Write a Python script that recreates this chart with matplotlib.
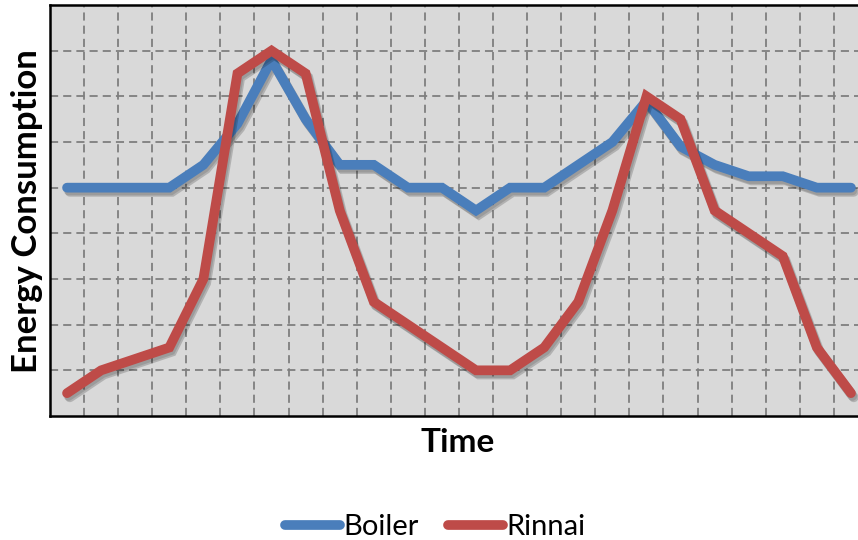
import numpy as np
import matplotlib
matplotlib.use("Agg")
import matplotlib.pyplot as plt
import matplotlib.patheffects as pe
from matplotlib.lines import Line2D

# hourly categories (24 slots), values in grid units
hours = list(range(24))
boiler = [5.0, 5.0, 5.0, 5.0, 5.5, 6.4, 7.8, 6.5, 5.5, 5.5, 5.0, 5.0,
          4.5, 5.0, 5.0, 5.5, 6.0, 6.9, 5.9, 5.5, 5.25, 5.25, 5.0, 5.0]
rinnai = [0.5, 1.0, 1.25, 1.5, 3.0, 7.5, 8.0, 7.5, 4.5, 2.5, 2.0, 1.5,
          1.0, 1.0, 1.5, 2.5, 4.5, 7.0, 6.5, 4.5, 4.0, 3.5, 1.5, 0.5]
series_names = ["Boiler", "Rinnai"]
series_colors = ["#4A7EBB", "#BE4B48"]

plt.rcParams['font.family'] = ['Lato', 'DejaVu Sans']

W, H = 858, 540
fig = plt.figure(figsize=(W / 100, H / 100), dpi=100)
ax = fig.add_axes([50 / W, (H - 416) / H, 818 / W, 411 / H])
ax.set_facecolor("#D9D9D9")

# soft-ish drop shadow like the spreadsheet style
shadow = [pe.SimpleLineShadow(offset=(2, -3), shadow_color="black", alpha=0.18),
          pe.SimpleLineShadow(offset=(1, -2), shadow_color="black", alpha=0.12),
          pe.Normal()]
for vals, name, col in zip([boiler, rinnai], series_names, series_colors):
    ax.plot(hours, vals, color=col, lw=7, solid_capstyle="round",
            solid_joinstyle="miter", path_effects=shadow, zorder=3)

ax.set_xlim(-0.5, 23.5)
ax.set_ylim(0, 9)
ax.set_xticks(np.arange(0.5, 23, 1))
ax.set_yticks(np.arange(1, 9, 1))
ax.set_xticklabels([])
ax.set_yticklabels([])
ax.tick_params(length=0)
ax.grid(True, color="#7F7F7F", lw=1.3, linestyle=(0, (4.5, 2.8)), zorder=1)
ax.set_axisbelow(True)

for side in ["left", "top", "bottom"]:
    ax.spines[side].set_color("black")
    ax.spines[side].set_linewidth(1.8)
ax.spines["right"].set_visible(False)

fig.text(27 / W, 1 - 211 / H, "Energy Consumption", rotation=90,
         ha="center", va="center", fontsize=25, fontweight="bold")
fig.text(458 / W, 1 - 443 / H, "Time", ha="center", va="center",
         fontsize=24, fontweight="bold")

handles = [Line2D([], [], color=c, lw=7, solid_capstyle="round")
           for c in series_colors]
fig.legend(handles=handles, labels=series_names, loc="center",
           bbox_to_anchor=(435 / W, 1 - 527 / H), ncol=2, frameon=False,
           fontsize=21, handlelength=1.9, handletextpad=0.1, columnspacing=1.0)

fig.savefig("out.png", dpi=100)
